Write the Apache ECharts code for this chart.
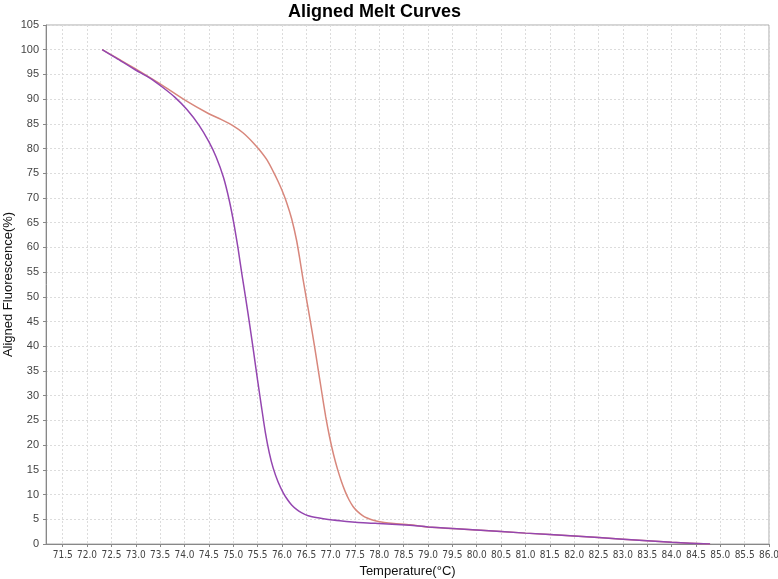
<!DOCTYPE html>
<html>
<head>
<meta charset="utf-8">
<script src="https://cdn.jsdelivr.net/npm/echarts@6/dist/echarts.min.js"></script>
<style>
html,body{margin:0;padding:0;background:#fff;}
#chart{width:778px;height:579px;}
</style>
</head>
<body>
<div id="chart"></div>
<script>
const xTicks = [71.5,72.0,72.5,73.0,73.5,74.0,74.5,75.0,75.5,76.0,76.5,77.0,77.5,78.0,78.5,79.0,79.5,80.0,80.5,81.0,81.5,82.0,82.5,83.0,83.5,84.0,84.5,85.0,85.5,86.0];

const purpleTemp = [72.31,72.6,72.98,73.3,73.55,73.8,74.05,74.3,74.5,74.65,74.8,74.92,75.02,75.1,75.18,75.26,75.34,75.42,75.5,75.58,75.66,75.74,75.82,75.92,76.03,76.12,76.2,76.3,76.4,76.54,76.7,76.85,77.19,77.67,78.08,78.63,79.0,80.0,81.0,82.0,83.0,84.0,84.79];
const purpleFluor = [100,98.3,96.0,94.2,92.4,90.4,87.9,84.7,81.4,78.3,74.2,69.5,64.5,59.8,54.5,49.5,44.3,38.8,33.2,27.8,22.6,18.5,15.4,12.6,10.3,8.9,7.9,7.0,6.35,5.7,5.35,5.12,4.72,4.31,4.12,3.78,3.45,2.83,2.2,1.62,0.98,0.34,0];

const salmonTemp = [72.31,72.6,72.98,73.3,73.53,74.01,74.49,74.75,75.0,75.2,75.4,75.55,75.7,75.82,75.92,76.0,76.1,76.2,76.3,76.37,76.43,76.5,76.58,76.66,76.74,76.82,76.9,76.98,77.06,77.14,77.22,77.3,77.38,77.46,77.55,77.65,77.75,77.86,77.98,78.1,78.3,78.63,79.0,80.0,81.0,82.0,83.0,84.0,84.79];
const salmonFluor = [100,98.4,96.2,94.3,92.9,89.8,87.1,85.9,84.6,83.2,81.3,79.6,77.6,75.4,73.4,71.6,69.0,65.8,61.5,57.5,53.8,49.8,45.3,40.6,35.6,30.6,25.7,21.6,18.1,15.2,12.7,10.6,8.9,7.6,6.6,5.8,5.25,4.85,4.55,4.35,4.15,3.9,3.45,2.83,2.2,1.62,0.98,0.34,0];

const pair = (xs, ys) => xs.map((x, i) => [x, ys[i]]);

const chart = echarts.init(document.getElementById('chart'), null, {renderer: 'canvas'});
chart.setOption({
  animation: false,
  backgroundColor: '#ffffff',
  title: {
    text: 'Aligned Melt Curves',
    left: 288, top: 3, padding: 0,
    textStyle: {fontFamily: 'Liberation Sans, Arial', fontWeight: 'bold', fontSize: 18, color: '#000'}
  },
  grid: {left: 46, right: 9, top: 25, bottom: 35, outerBoundsMode: 'none', containLabel: false,
         show: true, borderColor: '#aaaaaa', borderWidth: 1, backgroundColor: '#fff'},
  xAxis: {
    type: 'value', min: 71.157, max: 86,
    name: 'Temperature(°C)', nameLocation: 'middle', nameGap: 21, nameMoveOverlap: false,
    nameTextStyle: {fontFamily: 'Liberation Sans, Arial', fontSize: 13, color: '#111'},
    axisLine: {show: true, onZero: false, lineStyle: {color: '#888', width: 1}},
    axisTick: {show: true, length: 3, customValues: xTicks, lineStyle: {color: '#888'}},
    axisLabel: {customValues: xTicks, formatter: v => v.toFixed(1), fontFamily: 'Liberation Sans Narrow, DejaVu Sans Condensed, Arial', fontSize: 10, color: '#444', margin: 6},
    splitLine: {show: true, lineStyle: {color: '#dcdcdc', type: [2, 2], width: 1}}
  },
  yAxis: {
    type: 'value', min: 0, max: 105, interval: 5,
    name: 'Aligned Fluorescence(%)', nameLocation: 'middle', nameGap: 31, nameRotate: 90, nameMoveOverlap: false,
    nameTextStyle: {fontFamily: 'Liberation Sans, Arial', fontSize: 13, color: '#111'},
    axisLine: {show: true, lineStyle: {color: '#888', width: 1}},
    axisTick: {show: true, length: 3, lineStyle: {color: '#888'}},
    axisLabel: {fontFamily: 'Liberation Sans, Arial', fontSize: 11, color: '#444', margin: 7},
    splitLine: {show: true, lineStyle: {color: '#dcdcdc', type: [2, 2], width: 1}}
  },
  series: [
    {type: 'line', data: pair(salmonTemp, salmonFluor), showSymbol: false, smooth: 0.2,
     lineStyle: {color: '#d8877c', width: 1.5}, itemStyle: {color: '#d8877c'}},
    {type: 'line', data: pair(purpleTemp, purpleFluor), showSymbol: false, smooth: 0.2,
     lineStyle: {color: '#9446b0', width: 1.5}, itemStyle: {color: '#9446b0'}}
  ]
});
</script>
</body>
</html>
